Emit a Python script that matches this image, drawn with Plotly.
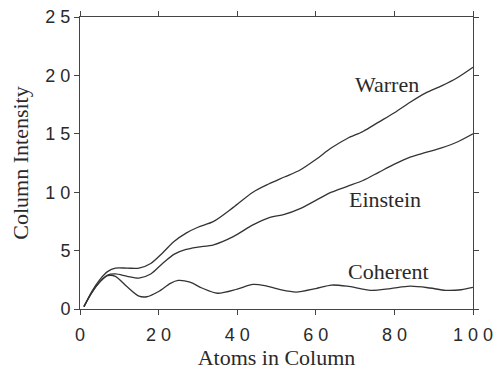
import plotly.graph_objects as go

warren_x = [1, 3, 5, 7, 9, 12, 15, 18, 21, 24, 27, 30, 34, 39, 44, 48, 52, 56, 60, 64, 68, 72, 76, 80, 84, 88, 92, 96, 100]
warren_y = [0.2, 1.5, 2.5, 3.2, 3.5, 3.5, 3.5, 3.9, 4.8, 5.8, 6.5, 7.0, 7.5, 8.7, 10.0, 10.7, 11.3, 11.9, 12.8, 13.8, 14.6, 15.2, 16.0, 16.8, 17.7, 18.5, 19.1, 19.8, 20.7]

einstein_x = [1, 3, 5, 7, 9, 12, 15, 18, 21, 24, 27, 30, 34, 39, 44, 48, 52, 56, 60, 64, 68, 72, 76, 80, 84, 88, 92, 96, 100]
einstein_y = [0.2, 1.4, 2.3, 2.9, 3.0, 2.8, 2.65, 3.0, 3.9, 4.7, 5.1, 5.3, 5.5, 6.2, 7.2, 7.8, 8.1, 8.6, 9.3, 10.0, 10.5, 11.0, 11.7, 12.4, 13.0, 13.4, 13.8, 14.3, 15.0]

coherent_x = [1, 3, 5, 7, 9, 12, 15, 17, 20, 23, 25, 28, 31, 35, 40, 44, 47, 51, 55, 60, 64, 68, 74, 79, 84, 89, 93, 97, 100]
coherent_y = [0.2, 1.4, 2.3, 2.85, 2.8, 1.9, 1.1, 1.05, 1.5, 2.2, 2.45, 2.3, 1.8, 1.35, 1.7, 2.1, 2.0, 1.65, 1.45, 1.75, 2.05, 1.95, 1.6, 1.75, 1.95, 1.8, 1.6, 1.65, 1.85]

labels = ["Warren", "Einstein", "Coherent"]
label_x = [78.0, 77.7, 78.6]
label_y = [19.2, 9.4, 3.2]

x_ticks = [0, 20, 40, 60, 80, 100]
x_ticktext = ["0", "2 0", "4 0", "6 0", "8 0", "1 0 0"]
y_ticks = [0, 5, 10, 15, 20, 25]
y_ticktext = ["0", "5", "1 0", "1 5", "2 0", "2 5"]

line_color = "#333333"
text_color = "#2a2a2a"
fig = go.Figure()
for xs, ys in [(warren_x, warren_y), (einstein_x, einstein_y), (coherent_x, coherent_y)]:
    fig.add_trace(go.Scatter(x=xs, y=ys, mode="lines", line=dict(color=line_color, width=1.3, shape="spline", smoothing=0.8), showlegend=False, hoverinfo="skip"))

for t, lx, ly in zip(labels, label_x, label_y):
    fig.add_annotation(x=lx, y=ly, text=t, showarrow=False, xanchor="center", yanchor="middle",
                       font=dict(family="Liberation Serif", size=22, color=text_color))

axis_common = dict(showline=True, linecolor="#444", linewidth=1, mirror="ticks", ticks="outside",
                   ticklen=5, tickcolor="#444", tickwidth=1, showgrid=False, zeroline=False,
                   automargin=False, ticklabeloverflow="allow",
                   tickfont=dict(family="Liberation Sans", size=18, color=text_color))

fig.update_xaxes(range=[0, 100], tickvals=x_ticks, ticktext=x_ticktext, ticklabelstandoff=4,
                 title=dict(text="Atoms in Column", font=dict(family="Liberation Serif", size=22, color=text_color), standoff=4),
                 **axis_common)
fig.update_yaxes(range=[0, 25], tickvals=y_ticks, ticktext=y_ticktext,
                 title=dict(text="Column Intensity", font=dict(family="Liberation Serif", size=22, color=text_color), standoff=10),
                 **axis_common)

fig.update_layout(width=493, height=373, margin=dict(l=80, r=20, t=17, b=64),
                  plot_bgcolor="white", paper_bgcolor="white")
fig.write_html("out.html")
